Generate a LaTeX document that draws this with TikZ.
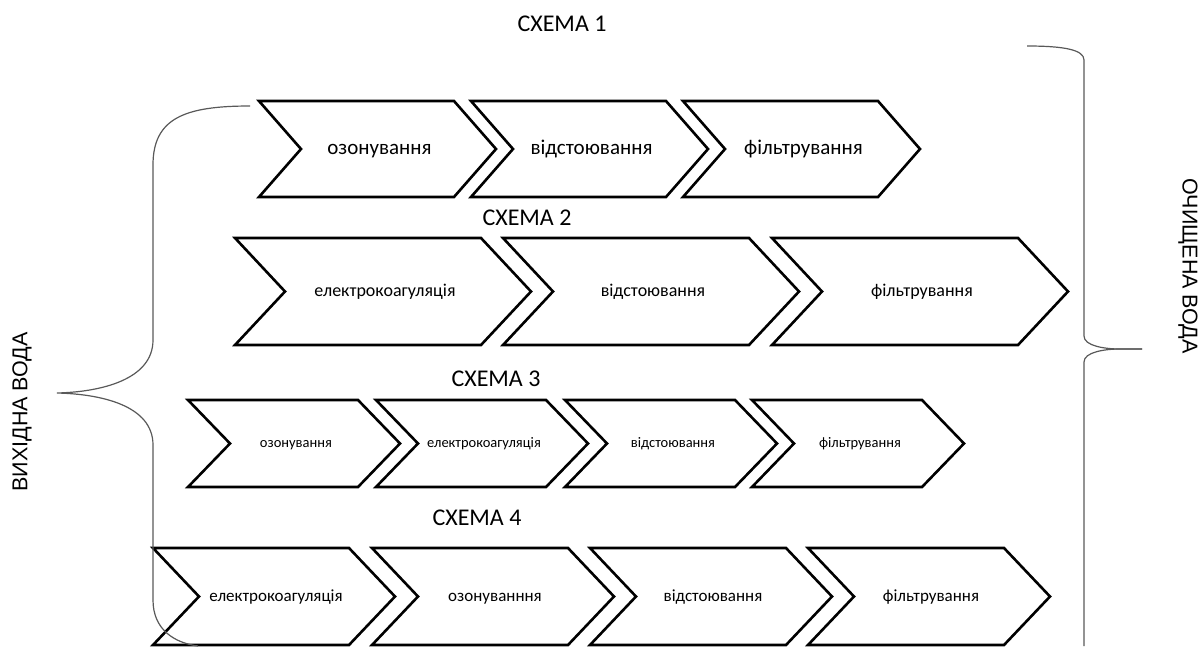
\documentclass[tikz,border=0pt]{standalone}
\usepackage{fontspec}
\setmainfont{Carlito}
\newfontfamily\arialf{Liberation Sans}
\tikzset{
  chev/.style={draw=black, line width=2.6pt, line join=miter},
  brace/.style={draw=black!65, line width=1.2pt},
  lbl/.style={inner sep=0pt, text=black, anchor=base},
  title/.style={inner sep=0pt, font=\fontsize{24}{28}\selectfont},
  side/.style={inner sep=0pt, font=\arialf\fontsize{21.5}{25}\selectfont},
}
% #1 name, #2 x, #3 ytop, #4 width, #5 height, #6 depth, #7 font size, #8 text
\newcommand\chevdraw[8]{%
  \draw[chev] (#2,#3) -- ++(#4-#6,0) -- ++(#6,#5/2) -- ++(-#6,#5/2) -- ++(#6-#4,0) -- ++(#6,-#5/2) -- cycle;
  \node[lbl, font=\fontsize{#7}{#7}\selectfont] (#1) at (#2+#4/2+2, #3+#5/2+0.27*#7) {#8};
}
\begin{document}
\begin{tikzpicture}[x=1pt, y=-1pt]
\useasboundingbox (0,0) rectangle (1203,646);

% titles
\node[title] (t1) at (562,24) {СХЕМА 1};
\node[title] (t2) at (527,218) {СХЕМА 2};
\node[title] (t3) at (496,379) {СХЕМА 3};
\node[title] (t4) at (477,518) {СХЕМА 4};

% row 1
\chevdraw{a1}{259}{101}{237}{96}{42}{21}{озонування}
\chevdraw{a2}{471}{101}{237}{96}{42}{21}{відстоювання}
\chevdraw{a3}{683}{101}{237}{96}{42}{21}{фільтрування}

% row 2
\chevdraw{b1}{235}{238}{296}{107}{50}{18}{електрокоагуляція}
\chevdraw{b2}{503}{238}{296}{107}{50}{18}{відстоювання}
\chevdraw{b3}{772}{238}{296}{107}{50}{18}{фільтрування}

% row 3
\chevdraw{c1}{188}{400}{212}{87}{42}{14.5}{озонування}
\chevdraw{c2}{376}{400}{212}{87}{42}{14.5}{електрокоагуляція}
\chevdraw{c3}{565}{400}{212}{87}{42}{14.5}{відстоювання}
\chevdraw{c4}{752}{400}{212}{87}{42}{14.5}{фільтрування}

% row 4
\chevdraw{d1}{153}{548}{242}{97}{46}{17}{електрокоагуляція}
\chevdraw{d2}{372}{548}{242}{97}{46}{17}{озонуванння}
\chevdraw{d3}{590}{548}{242}{97}{46}{17}{відстоювання}
\chevdraw{d4}{808}{548}{242}{97}{46}{17}{фільтрування}

% left brace
\coordinate (lbtop) at (250,106);
\coordinate (lbtip) at (57,393);
\coordinate (lbbot) at (198,646);
\draw[brace] (lbtop) .. controls (185,106) and (153,118) .. (153,165)
  -- (153,340) .. controls (153,380) and (100,392) .. (lbtip)
  .. controls (100,394) and (153,405) .. (153,445)
  -- (153,600) .. controls (153,630) and (175,643) .. (lbbot);

% right brace
\coordinate (rbtop) at (1027,46);
\coordinate (rbtip) at (1142,349);
\coordinate (rbbot) at (1084,646);
\draw[brace] (rbtop) .. controls (1065,46) and (1084,50) .. (1084,60)
  -- (1084,336) .. controls (1084,346) and (1105,349) .. (1120,349) -- (rbtip);
\draw[brace] (rbtip) -- (1120,349) .. controls (1105,349) and (1084,352) .. (1084,362)
  -- (rbbot);

% side labels
\node[side, rotate=90] (inlbl) at (22,412) {ВИХІДНА ВОДА};
\node[side, rotate=-90] (outlbl) at (1188,266) {ОЧИЩЕНА ВОДА};
\end{tikzpicture}
\end{document}
